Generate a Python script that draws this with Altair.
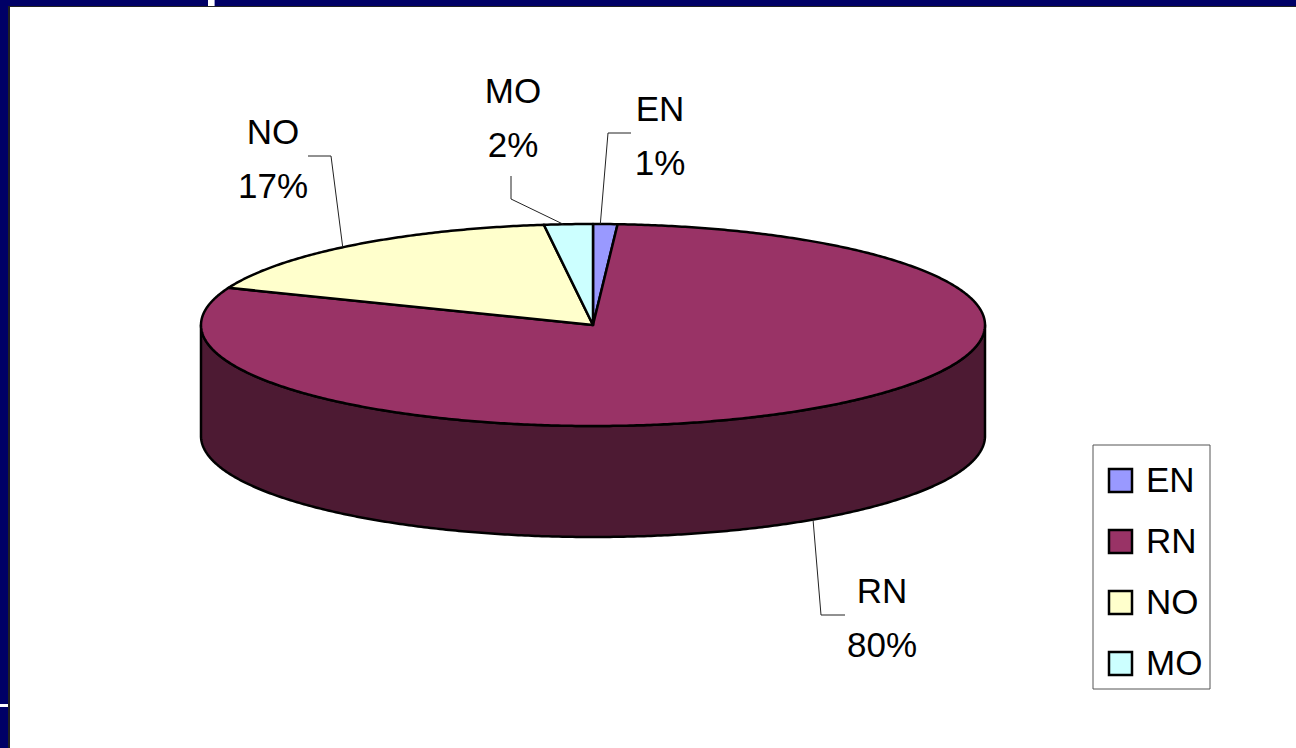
import math

import altair as alt
import pandas as pd

# Survey shares, clockwise from twelve o'clock
categories = ["EN", "RN", "NO", "MO"]
shares = [1, 80, 17, 2]
top_colors = ["#9999FF", "#993366", "#FFFFCC", "#CCFFFF"]
wall_colors = ["#4D4D80", "#4D1A33", "#808066", "#668080"]

# Tilted-disc geometry, in pixels on the page
CX, CY = 593, 325
RX, RY = 392, 101
DEPTH = 111
TILT = RY / RX
THICKNESS = DEPTH / RX

FONT = "Liberation Sans"
FONT_SIZE = 35
LINE_GAP = 54
OUTLINE = 2.5

# Callout layout: (first baseline x, first baseline y, elbow x, elbow y, tail x, tail y, rim nudge)
callouts = {
    "EN": (660, 121, 608, 133, 631, 133, -5),
    "RN": (882, 603, 821, 615, 845, 615, 10),
    "NO": (273, 144, 331, 156, 308, 156, -10),
    "MO": (513, 103, 511, 199, 511, 176, -5),
}


def rim(angle, drop=0.0):
    rad = math.radians(angle)
    return [math.sin(rad), TILT * math.cos(rad) - drop]


def arc(start, end, drop=0.0):
    steps = max(2, int(abs(end - start) * 2))
    return [rim(start + (end - start) * i / steps, drop) for i in range(steps + 1)]


def feature(name, ring):
    return {
        "type": "Feature",
        "properties": {"name": name},
        "geometry": {"type": "Polygon", "coordinates": [ring + [ring[0]]]},
    }


# Turn the shares into wedge outlines and the visible front wall
total = sum(shares)
top_features, wall_features, anchors = [], [], {}
angle = 0.0
for name, share, wall in zip(categories, shares, wall_colors):
    sweep = 360.0 * share / total
    start, end = angle, angle + sweep
    top_features.append(feature(name, [[0.0, 0.0]] + arc(start, end)))

    front_start, front_end = max(start, 90.0), min(end, 270.0)
    if front_end > front_start:
        ring = arc(front_start, front_end) + arc(front_end, front_start, THICKNESS)
        wall_features.append(feature(wall, ring))

    # Callouts leave the rim near the middle of their wedge
    mid = (start + end) / 2
    facing_front = 90 < mid < 270
    ax = CX + RX * math.sin(math.radians(mid)) + callouts[name][6]
    half_height = RY * math.sqrt(1 - ((ax - CX) / RX) ** 2)
    anchors[name] = (ax, CY + half_height + DEPTH if facing_front else CY - half_height)
    angle = end


def geo_data(features):
    return alt.InlineData(
        values={"type": "FeatureCollection", "features": features},
        format=alt.DataFormat(type="json", property="features"),
    )


projection = alt.Projection(type="identity", reflectY=True, scale=RX, translate=[CX, CY])

walls = (
    alt.Chart(geo_data(wall_features))
    .mark_geoshape(stroke="black", strokeWidth=OUTLINE, strokeJoin="round")
    .encode(fill=alt.Fill("properties.name:N", scale=None))
    .project(**projection.to_dict())
)

top = (
    alt.Chart(geo_data(top_features))
    .mark_geoshape(stroke="black", strokeWidth=OUTLINE, strokeJoin="round")
    .encode(
        fill=alt.Fill(
            "properties.name:N",
            scale=alt.Scale(domain=categories, range=top_colors),
            legend=alt.Legend(
                title=None,
                orient="none",
                legendX=1103,
                legendY=463,
                symbolType="square",
                symbolSize=529,
                symbolStrokeColor="black",
                symbolStrokeWidth=OUTLINE,
                symbolOpacity=1,
                labelFont=FONT,
                labelFontSize=FONT_SIZE,
                labelColor="black",
                labelOffset=8,
                rowPadding=25,
                padding=0,
            ),
        )
    )
    .project(**projection.to_dict())
)

leader_rows = []
label_rows = []
for name, share in zip(categories, shares):
    lx, ly, ex, ey, tx, ty, _ = callouts[name]
    ax, ay = anchors[name]
    for order, (px, py) in enumerate([(ax, ay), (ex, ey), (tx, ty)]):
        leader_rows.append({"name": name, "order": order, "px": px, "py": py})
    label_rows.append({"px": lx, "py": ly, "text": name})
    label_rows.append({"px": lx, "py": ly + LINE_GAP, "text": f"{share}%"})

leaders = (
    alt.Chart(pd.DataFrame(leader_rows))
    .mark_line(color="#222222", strokeWidth=1)
    .encode(
        x=alt.X("px:Q", scale=None, axis=None),
        y=alt.Y("py:Q", scale=None, axis=None),
        detail="name:N",
        order="order:Q",
    )
)

labels = (
    alt.Chart(pd.DataFrame(label_rows))
    .mark_text(font=FONT, fontSize=FONT_SIZE, color="black", align="center", baseline="alphabetic")
    .encode(
        x=alt.X("px:Q", scale=None, axis=None),
        y=alt.Y("py:Q", scale=None, axis=None),
        text="text:N",
    )
)

# Slide frame with its two small gaps; the pieces sit side by side without overlapping
frame = pd.DataFrame(
    [
        {"x": 0, "x2": 208, "y": 0, "y2": 6, "c": "#000066"},
        {"x": 208, "x2": 214, "y": 0, "y2": 6, "c": "#FFFFFF"},
        {"x": 214, "x2": 215, "y": 0, "y2": 6, "c": "#9999CC"},
        {"x": 215, "x2": 1296, "y": 0, "y2": 6, "c": "#000066"},
        {"x": 0, "x2": 8, "y": 6, "y2": 704, "c": "#000066"},
        {"x": 0, "x2": 8, "y": 704, "y2": 707, "c": "#FFFFFF"},
        {"x": 0, "x2": 8, "y": 707, "y2": 748, "c": "#000066"},
        {"x": 8, "x2": 1296, "y": 6, "y2": 7, "c": "#222222"},
        {"x": 8, "x2": 10, "y": 7, "y2": 748, "c": "#222222"},
    ]
)
frame_marks = (
    alt.Chart(frame)
    .mark_rect()
    .encode(
        x=alt.X("x:Q", scale=None, axis=None),
        x2="x2:Q",
        y=alt.Y("y:Q", scale=None, axis=None),
        y2="y2:Q",
        color=alt.Color("c:N", scale=None),
    )
)

legend_box = (
    alt.Chart(pd.DataFrame({"x": [1093], "x2": [1210], "y": [445], "y2": [689]}))
    .mark_rect(fill="white", stroke="#555555", strokeWidth=1)
    .encode(
        x=alt.X("x:Q", scale=None, axis=None),
        x2="x2:Q",
        y=alt.Y("y:Q", scale=None, axis=None),
        y2="y2:Q",
    )
)

chart = (
    alt.layer(frame_marks, legend_box, walls, top, leaders, labels)
    .resolve_scale(fill="independent")
    .properties(
        width=1296,
        height=748,
        padding=0,
        background="white",
        autosize=alt.AutoSizeParams(type="none"),
    )
    .configure_view(stroke=None)
)

chart.save("out.html", embed_options={"renderer": "svg", "actions": False})
